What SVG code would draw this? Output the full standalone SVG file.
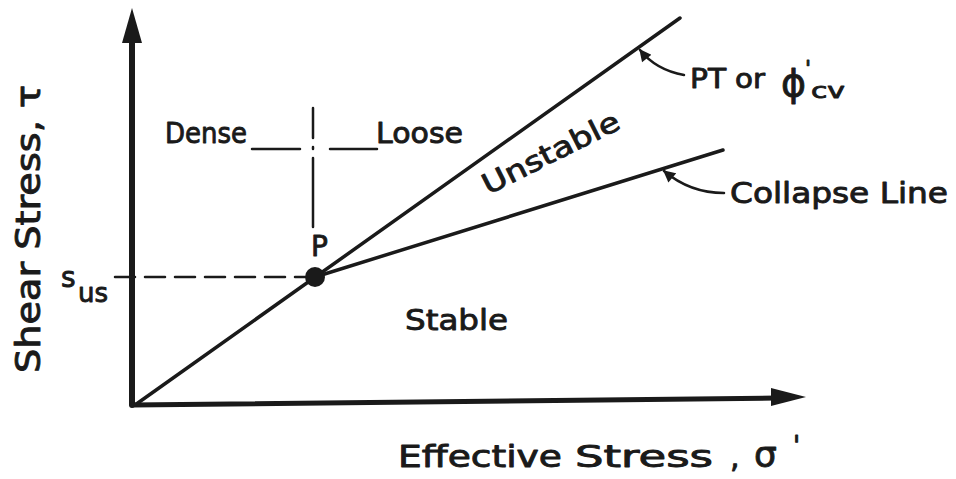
<svg xmlns="http://www.w3.org/2000/svg" width="956" height="479" viewBox="0 0 956 479">
<defs>
<style>
.t{font-family:"DejaVu Sans","Liberation Sans",sans-serif;fill:#1a1a1a;stroke:#1a1a1a;stroke-width:0.9;stroke-linejoin:round}
.ln{stroke:#1a1a1a;fill:none;stroke-linecap:round}
</style>
<marker id="lab" viewBox="0 0 10 10" refX="9" refY="5" markerWidth="14" markerHeight="12" orient="auto" markerUnits="userSpaceOnUse">
<path d="M0,0 L10,5 L0,10 Z" fill="#1a1a1a"/>
</marker>
</defs>
<rect width="956" height="479" fill="#fff"/>
<g id="axes">
<path class="ln" d="M132,405 L132,38" stroke-width="6"/>
<polygon points="132,8 122,43 142,43" fill="#1a1a1a"/>
<path class="ln" d="M132,405 L776,398" stroke-width="5"/>
<polygon points="806,397 771,388 771,406" fill="#1a1a1a"/>
</g>
<g id="connectors">
<path class="ln" d="M135,405 L680,18" stroke-width="3.5"/>
<path class="ln" d="M315,277 L723,150" stroke-width="3.5"/>
<path class="ln" d="M115,277 L305,277" stroke-width="2.5" stroke-dasharray="20,10" stroke-linecap="butt"/>
<path class="ln" d="M313,108 L313,138 M313,147 L313,149 M313,158 L313,227" stroke-width="2.5"/>
<path class="ln" d="M252,149 L300,149 M330,149 L377,149" stroke-width="2.5"/>
<path class="ln" d="M684,75 Q656,70 640,50" stroke-width="2.5" marker-end="url(#lab)"/>
<path class="ln" d="M724,193 Q690,193 664,171" stroke-width="2.5" marker-end="url(#lab)"/>
</g>
<g id="point-P">
<circle cx="315" cy="277" r="10" fill="#1a1a1a"/>
<text class="t" x="311" y="256" font-size="28">P</text>
</g>
<g id="label-dense"><text class="t" x="165" y="143" font-size="28" textLength="82" lengthAdjust="spacingAndGlyphs">Dense</text></g>
<g id="label-loose"><text class="t" x="376" y="143" font-size="28" textLength="87" lengthAdjust="spacingAndGlyphs">Loose</text></g>
<g id="label-unstable"><text class="t" transform="translate(488,195) rotate(-26.6)" x="0" y="0" font-size="28" textLength="150" lengthAdjust="spacingAndGlyphs">Unstable</text></g>
<g id="label-stable"><text class="t" x="405" y="330" font-size="29" textLength="103" lengthAdjust="spacingAndGlyphs">Stable</text></g>
<g id="label-sus">
<text class="t" x="61" y="287" font-size="28">s</text>
<text class="t" x="78" y="302" font-size="26" textLength="30" lengthAdjust="spacingAndGlyphs">us</text>
</g>
<g id="label-pt">
<text class="t" x="690" y="88" font-size="26" textLength="36" lengthAdjust="spacingAndGlyphs">PT</text>
<text class="t" x="735" y="88" font-size="26" textLength="30" lengthAdjust="spacingAndGlyphs">or</text>
<text class="t" x="781" y="96" font-size="38">ϕ</text>
<text class="t" x="805" y="76" font-size="22">'</text>
<text class="t" x="811" y="98" font-size="22" textLength="34" lengthAdjust="spacingAndGlyphs">cv</text>
</g>
<g id="label-collapse"><text class="t" x="730" y="203" font-size="28" textLength="218" lengthAdjust="spacingAndGlyphs">Collapse Line</text></g>
<g id="label-x">
<text class="t" x="398" y="467" font-size="30" textLength="164" lengthAdjust="spacingAndGlyphs">Effective</text>
<text class="t" x="575" y="467" font-size="30" textLength="138" lengthAdjust="spacingAndGlyphs">Stress</text>
<text class="t" x="730" y="467" font-size="30">,</text>
<text class="t" x="754" y="467" font-size="36">σ</text>
<text class="t" x="793" y="455" font-size="26">'</text>
</g>
<g id="label-y"><text class="t" transform="rotate(-90)" x="-373" y="40" font-size="34" textLength="288" lengthAdjust="spacingAndGlyphs">Shear Stress, τ</text></g>
</svg>
